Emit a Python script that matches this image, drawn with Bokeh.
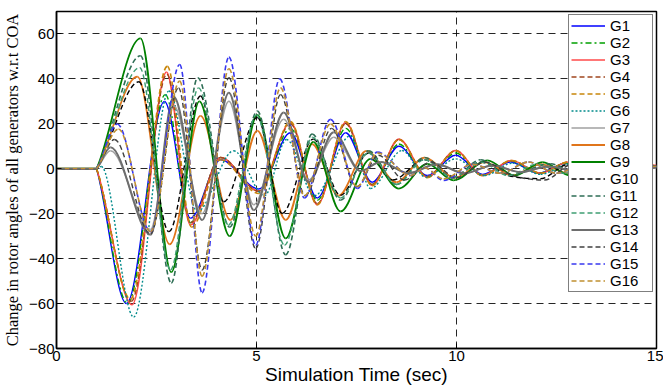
import numpy as np
from bokeh.plotting import figure
from bokeh.models import Range1d, FixedTicker, Legend, LegendItem, ColumnDataSource
from bokeh.embed import file_html
from bokeh.resources import INLINE

# ---------------- data (extrema) ----------------
x_ticks = [0, 5, 10, 15]
y_ticks = [-80, -60, -40, -20, 0, 20, 40, 60]

t_G1 = [0, 1, 1.75, 2.7, 3.35, 4.1, 5.06, 5.85, 6.52, 7.23, 7.89, 8.56, 9.27, 9.98, 10.65, 11.35, 12.05, 12.75, 13.45, 14.15, 15]
v_G1 = [0, 0, -60, 30, -22, 4, -9, 16, -13, 16, -6, 10, -3, 6, -2.5, 3, -2, 2.5, -1.5, 1.5, 1]

t_G2 = [0, 1, 1.78, 2.72, 3.35, 4.1, 5.06, 5.85, 6.52, 7.23, 7.89, 8.56, 9.27, 9.98, 10.65, 11.35, 12.05, 12.75, 13.45, 14.15, 15]
v_G2 = [0, 0, -60, 33, -24, 5, -10, 18, -14, 18, -7, 11, -3.5, 7, -3, 3.5, -2, 2.5, -1.5, 1.5, 1]

t_G3 = [0, 1, 1.89, 2.75, 3.35, 4.1, 5.06, 5.85, 6.52, 7.23, 7.89, 8.56, 9.27, 9.98, 10.65, 11.38, 12.1, 12.8, 13.5, 14.2, 15]
v_G3 = [0, 0, -60.5, 43, -25, 5, -10, 20.6, -16, 20.6, -7.4, 13.2, -3.7, 8.1, -3, 3.7, -2, 3, -1.5, 2, 1.5]

t_G4 = [0, 1, 1.87, 2.76, 3.35, 4.1, 5.06, 5.85, 6.52, 7.23, 7.89, 8.56, 9.27, 9.98, 10.65, 11.38, 12.1, 12.8, 13.5, 14.2, 15]
v_G4 = [0, 0, -59, 42, -24, 5, -10, 20, -15.5, 20, -7, 13, -3.5, 8, -3, 3.5, -2, 3, -1.5, 2, 1.5]

t_G5 = [0, 1, 1.85, 2.77, 3.38, 4.1, 5.06, 5.85, 6.52, 7.23, 7.89, 8.56, 9.27, 9.98, 10.65, 11.38, 12.1, 12.8, 13.5, 14.2, 15]
v_G5 = [0, 0, -58, 45.6, -26, 4, -11, 21, -16, 21, -7.5, 13, -4, 8, -3, 3.7, -2, 3, -1.5, 2, 1.5]

t_G6 = [0, 1, 1.12, 1.93, 2.81, 3.52, 4.43, 5.2, 5.75, 6.45, 7.35, 7.85, 8.64, 9.23, 9.98, 10.7, 11.4, 12.1, 12.8, 13.5, 14.2, 15]
v_G6 = [0, 0, 1, -66, 34.6, -19, 8, -12, 13, -12, 14.7, -8.8, 8.1, -3.7, 4.4, -3, 2.5, -2.5, 2, -1.5, 1.5, 1]

t_G7 = [0, 1, 1.35, 2.35, 2.93, 3.64, 4.31, 4.93, 5.68, 6.3, 6.93, 7.6, 8.1, 8.8, 9.5, 10.2, 10.9, 11.6, 12.3, 13.0, 13.7, 14.4, 15]
v_G7 = [0, 0, 8, -27, 28, -20, 30, -16, 22, -5, 14, -1, 3, -2, 2, -2, 1.5, -1.5, 1, -1, 1, -0.5, 0.5]

t_G8 = [0, 1, 2.02, 2.83, 3.6, 4.35, 5.02, 5.73, 6.39, 7.05, 7.75, 8.5, 9.2, 9.95, 10.7, 11.4, 12.1, 12.8, 13.5, 14.2, 15]
v_G8 = [0, 0, 41, -33.6, 23.5, -22.8, 17, -22.8, 11, -12, 8, -6, 5, -4, 3, -3, 2, -2, 1.5, -1, 1]

t_G9 = [0, 1, 2.1, 2.87, 3.57, 4.33, 5.02, 5.73, 6.42, 7.1, 7.85, 8.56, 9.27, 9.93, 10.77, 11.45, 12.15, 12.85, 13.55, 14.25, 15]
v_G9 = [0, 0, 58, -46, 30, -30, 24, -31, 12, -19, 4.4, -8.8, 2.2, -5.2, 3.7, -3, 3, -3, 2, -1, 1]

t_G10 = [0, 1, 2.06, 2.81, 3.6, 4.18, 5.02, 5.64, 6.42, 7.1, 7.8, 8.4, 9.2, 9.9, 10.6, 11.3, 12.1, 12.8, 13.5, 14.2, 15]
v_G10 = [0, 0, 38.7, -28, 32.4, -14.7, 22.8, -19.9, 13.2, -11.8, 7, -5, 4, -4, 3, -3, -4.4, 2, -2, 1, 1]

t_G11 = [0, 1, 2.1, 2.87, 3.53, 4.33, 5.02, 5.73, 6.39, 7.1, 7.8, 8.5, 9.2, 9.9, 10.6, 11.3, 12.35, 13.0, 13.6, 14.3, 15]
v_G11 = [0, 0, 50.3, -50.8, 40.5, -26, 25.7, -38.3, 15.5, -14, 8, -7, 5, -4, 4, -3, 2.2, -2, 2, -1, 1]

t_G12 = [0, 1, 2.08, 2.85, 3.55, 4.3, 5.0, 5.7, 6.4, 7.1, 7.8, 8.5, 9.2, 9.9, 10.6, 11.3, 12.0, 12.7, 13.4, 14.1, 15]
v_G12 = [0, 0, 45, -45, 36, -25, 24, -34, 14, -13, 7, -7, 4, -4, 3, -3, 2, -2, 1.5, -1, 1]

t_G13 = [0, 1, 1.35, 2.35, 2.93, 3.64, 4.31, 4.93, 5.68, 6.3, 6.93, 7.6, 8.1, 8.8, 9.5, 10.2, 10.9, 11.6, 12.3, 13.0, 13.7, 14.4, 15]
v_G13 = [0, 0, 9.6, -29.4, 32, -22.8, 33.8, -18.4, 25, -6, 16.2, -1, 3, -2, 2, -2, 1.5, -1.5, 1, -1, 1, -0.5, 0.5]

t_G14 = [0, 1, 1.45, 2.35, 3.05, 3.64, 4.31, 4.98, 5.6, 6.22, 6.88, 7.5, 8.05, 8.7, 9.35, 10.0, 10.7, 11.4, 12.2, 12.9, 13.6, 14.3, 15]
v_G14 = [0, 0, 13, -29, 36, -45, 40.5, -35.5, 33, -12, 18, -8, 6, -5, 3, -4, 3, -3, -5, 2, -2, 1, 1]

t_G15 = [0, 1, 1.52, 2.35, 3.08, 3.64, 4.31, 4.98, 5.58, 6.2, 6.85, 7.52, 8.02, 8.85, 9.2, 9.68, 10.4, 11.1, 11.8, 12.5, 13.2, 13.9, 15]
v_G15 = [0, 0, 19.9, -28, 46.4, -55.2, 49.7, -34, 40, -13, 22, -8.8, 7.4, -3, 0.5, -5.2, 2, -2, 3, -2, 2, -1, 1]

t_G16 = [0, 1, 1.55, 2.35, 3.08, 3.64, 4.31, 4.98, 5.6, 6.2, 6.85, 7.52, 8.02, 8.85, 9.2, 9.68, 10.4, 11.1, 11.8, 12.5, 13.2, 13.9, 15]
v_G16 = [0, 0, 17.7, -28, 39, -47.8, 44.5, -30, 36, -12, 20, -8, 7, -3, 0.5, -4.5, 2, -2, 3, -2, 2, -1, 1]

names = ["G1", "G2", "G3", "G4", "G5", "G6", "G7", "G8",
         "G9", "G10", "G11", "G12", "G13", "G14", "G15", "G16"]
series_t = [t_G1, t_G2, t_G3, t_G4, t_G5, t_G6, t_G7, t_G8,
            t_G9, t_G10, t_G11, t_G12, t_G13, t_G14, t_G15, t_G16]
series_v = [v_G1, v_G2, v_G3, v_G4, v_G5, v_G6, v_G7, v_G8,
            v_G9, v_G10, v_G11, v_G12, v_G13, v_G14, v_G15, v_G16]

# ---------------- styles ----------------
colors = ["#0000ff", "#00a000", "#ff4a4a", "#a0461e", "#c8860a", "#008b8b", "#a0a0a0", "#e0751b",
          "#008000", "#000000", "#2e6e55", "#3f9f73", "#6e6e6e", "#404040", "#3838f0", "#c09030"]
dashes = ["solid", "6 3 2 3", "solid", "5 3", "5 3", "2 2", "solid", "solid",
          "solid", "5 3", "5 3", "5 3", "solid", "5 3", "5 3", "5 3"]
widths = [1.4, 1.4, 1.6, 1.4, 1.6, 1.4, 1.5, 1.8, 1.8, 1.4, 1.6, 1.4, 2.0, 1.4, 1.6, 1.6]


def bezier_data(t, v):
    t = np.asarray(t, float)
    v = np.asarray(v, float)
    n = len(t)
    m_in = np.zeros(n)
    m_out = np.zeros(n)
    for i in range(1, n - 1):
        dp = v[i] - v[i - 1]
        dn = v[i + 1] - v[i]
        if dp == 0 and dn != 0:
            m_in[i] = 0.0
            m_out[i] = 0.7 * dn / (t[i + 1] - t[i])
        elif dp * dn <= 0:
            pass
        else:
            m_in[i] = m_out[i] = (v[i + 1] - v[i - 1]) / (t[i + 1] - t[i - 1])
    h = t[1:] - t[:-1]
    return dict(x0=t[:-1], y0=v[:-1], x1=t[1:], y1=v[1:],
                cx0=t[:-1] + h / 3, cy0=v[:-1] + m_out[:-1] * h / 3,
                cx1=t[1:] - h / 3, cy1=v[1:] - m_in[1:] * h / 3)


p = figure(width=663, height=387, output_backend="svg", toolbar_location=None,
           x_range=Range1d(0, 15), y_range=Range1d(-80, 70),
           min_border_left=56, min_border_right=7, min_border_top=11, min_border_bottom=36,
           background_fill_color="white", border_fill_color="white")

items = []
for name, t, v, c, d, w in zip(names, series_t, series_v, colors, dashes, widths):
    src = ColumnDataSource(bezier_data(t, v))
    r = p.bezier(x0="x0", y0="y0", x1="x1", y1="y1", cx0="cx0", cy0="cy0",
                 cx1="cx1", cy1="cy1", source=src, line_color=c, line_width=w, line_dash=d)
    rends = [r]
    if name == "G2":
        mk = p.scatter(x=[], y=[], marker="circle", size=4, fill_color=c, line_color=c)
        rends.append(mk)
    items.append(LegendItem(label=name, renderers=rends))

legend = Legend(items=items, location="top_right", margin=3, padding=2, spacing=0,
                glyph_width=34, glyph_height=17, label_height=17, label_width=40,
                label_standoff=5, label_text_font="Liberation Sans",
                label_text_font_size="15px", label_text_color="black",
                border_line_color="black", border_line_width=1,
                background_fill_color="white", background_fill_alpha=1.0)
p.add_layout(legend)

p.xaxis.ticker = FixedTicker(ticks=x_ticks)
p.yaxis.ticker = FixedTicker(ticks=y_ticks)
for ax in (p.xaxis, p.yaxis):
    ax.major_tick_in = 5
    ax.major_tick_out = 0
    ax.minor_tick_line_color = None
    ax.axis_line_color = "black"
    ax.axis_line_width = 1.5
    ax.major_tick_line_color = "black"
    ax.major_label_text_font = "Liberation Sans"
    ax.major_label_text_font_size = "15px"
    ax.major_label_text_color = "black"
    ax.major_label_standoff = 2
    ax.axis_label_text_color = "black"

p.xaxis.axis_label = "Simulation Time (sec)"
p.xaxis.axis_label_text_font = "Liberation Sans"
p.xaxis.axis_label_text_font_size = "19px"
p.xaxis.axis_label_text_font_style = "normal"
p.xaxis.axis_label_standoff = 0

p.yaxis.axis_label = "Change in rotor angles of all generators w.r.t COA"
p.yaxis.axis_label_text_font = "Liberation Serif"
p.yaxis.axis_label_text_font_size = "16.5px"
p.yaxis.axis_label_text_font_style = "normal"
p.yaxis.axis_label_standoff = 4

p.xgrid.ticker = FixedTicker(ticks=x_ticks)
p.ygrid.ticker = FixedTicker(ticks=y_ticks)
for g in (p.xgrid, p.ygrid):
    g.grid_line_color = "black"
    g.grid_line_dash = "7 5"
    g.grid_line_width = 1
    g.grid_line_alpha = 0.85

p.outline_line_color = "black"
p.outline_line_width = 1.5

open("out.html", "w").write(file_html(p, INLINE))
